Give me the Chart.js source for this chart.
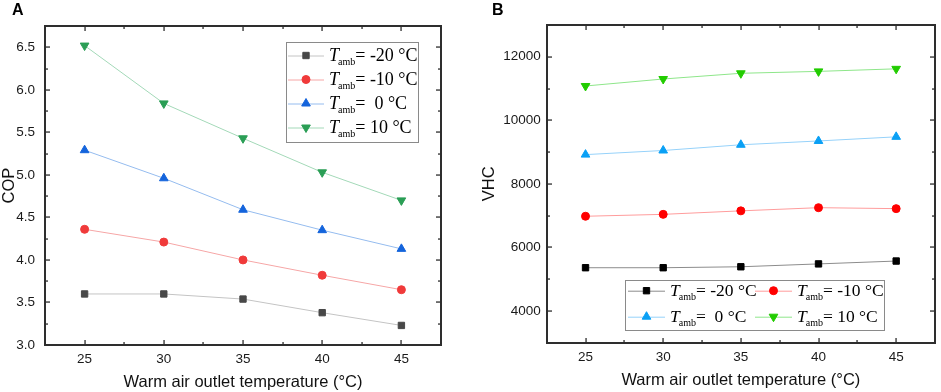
<!DOCTYPE html>
<html>
<head>
<meta charset="utf-8">
<script src="https://cdn.jsdelivr.net/npm/chart.js@4/dist/chart.umd.min.js"></script>
<style>
  body { margin: 0; background: #fff; }
  .panel { position: absolute; top: 0; height: 392px; }
  .panel canvas { display: block; }
  .tag { position: absolute; top: 1px; font: bold 16px "Liberation Sans", Arial, sans-serif; color: #000; }
  #status { position: absolute; left: 0; top: 0; width: 1px; height: 1px; overflow: hidden; z-index: 5; font-size: 1px; color: #fff; }
</style>
</head>
<body>
<div class="panel" style="left:0;width:470px"><canvas id="chart-cop" width="470" height="392"></canvas></div>
<div class="panel" style="left:470px;width:471px"><canvas id="chart-vhc" width="471" height="392"></canvas></div>
<div class="tag" style="left:12px">A</div>
<div class="tag" style="left:492px">B</div>
<div id="status"></div>
<script>
// warm air outlet temperature (°C)
var outletTemps = [25, 30, 35, 40, 45];
var xTicks = [25, 30, 35, 40, 45];
var copTicks = [3.0, 3.5, 4.0, 4.5, 5.0, 5.5, 6.0, 6.5];
var vhcTicks = [4000, 6000, 8000, 10000, 12000];

// legend text after "T_amb"
var ambLabels = ['= -20 °C', '= -10 °C', '=  0 °C', '= 10 °C'];

// COP at T_amb = -20, -10, 0, 10 °C
var copM20 = [3.60, 3.60, 3.54, 3.38, 3.23];
var copM10 = [4.36, 4.21, 4.00, 3.82, 3.65];
var cop0 = [5.29, 4.96, 4.59, 4.35, 4.13];
var cop10 = [6.52, 5.84, 5.43, 5.03, 4.70];

// VHC at T_amb = -20, -10, 0, 10 °C
var vhcM20 = [5360, 5360, 5390, 5480, 5570];
var vhcM10 = [6980, 7040, 7150, 7250, 7220];
var vhc0 = [8920, 9050, 9230, 9350, 9480];
var vhc10 = [11080, 11300, 11480, 11540, 11620];

var sansFont = '"Liberation Sans", Arial, sans-serif';
var serifFont = '"Liberation Serif", "Times New Roman", serif';
var frameColor = '#2e2e2e';
var statusEl = document.getElementById('status');

function makeDataset(values, label, marker, line, style, radius, rotation) {
    return {
        label: label,
        data: values.map((v, i) => ({ x: outletTemps[i], y: v })),
        borderColor: line,
        borderWidth: 1,
        pointStyle: style,
        pointRotation: rotation || 0,
        pointRadius: radius,
        pointHoverRadius: radius,
        pointBackgroundColor: marker,
        pointBorderColor: marker,
        pointBorderWidth: 1,
        fill: false,
        tension: 0
    };
}

// frame plus inward ticks (major + minor) on all four sides
var frameTicks = {
    id: 'frameTicks',
    afterDatasetsDraw(chart) {
        var ctx = chart.ctx, a = chart.chartArea;
        var sx = chart.scales.x, sy = chart.scales.y;
        var l = Math.round(a.left), t = Math.round(a.top);
        var r = Math.round(a.right), b = Math.round(a.bottom);
        ctx.save();
        ctx.fillStyle = frameColor;
        ctx.fillRect(l - 1, t - 1, r - l + 2, 2);
        ctx.fillRect(l - 1, b - 1, r - l + 2, 2);
        ctx.fillRect(l - 1, t - 1, 2, b - t + 2);
        ctx.fillRect(r - 1, t - 1, 2, b - t + 2);
        var xs = sx.ticks.map(tk => tk.value);
        var xStep = xs[1] - xs[0];
        for (var v = xs[0] - xStep / 2; v <= sx.max; v += xStep / 2) {
            if (v < sx.min) continue;
            var len = xs.indexOf(v) >= 0 ? 5 : 3;
            var px = Math.round(sx.getPixelForValue(v));
            ctx.fillRect(px - 0.6, b - len, 1.3, len);
            ctx.fillRect(px - 0.6, t, 1.3, len);
        }
        var ys = sy.ticks.map(tk => tk.value);
        var yStep = ys[1] - ys[0];
        for (var w = ys[0] - yStep; w <= sy.max + 1e-9; w += yStep / 2) {
            if (w < sy.min - 1e-9) continue;
            var major = ys.some(tk => Math.abs(tk - w) < 1e-6);
            var l2 = major ? 5 : 3;
            var py = Math.round(sy.getPixelForValue(w));
            ctx.fillRect(l, py - 0.6, l2, 1.3);
            ctx.fillRect(r - l2, py - 0.6, l2, 1.3);
        }
        ctx.restore();
        statusEl.textContent += chart.canvas.id + ' ';
    }
};

// Origin-style legend: line sample + marker + T_amb label
var ambLegend = {
    id: 'ambLegend',
    afterDraw(chart, args, opts) {
        var ctx = chart.ctx;
        ctx.save();
        ctx.fillStyle = '#fff';
        ctx.fillRect(opts.box[0], opts.box[1], opts.box[2] - opts.box[0], opts.box[3] - opts.box[1]);
        ctx.strokeStyle = '#8a8a8a';
        ctx.lineWidth = 1;
        ctx.strokeRect(opts.box[0] + 0.5, opts.box[1] + 0.5, opts.box[2] - opts.box[0], opts.box[3] - opts.box[1]);
        chart.data.datasets.forEach((ds, i) => {
            var col = i % opts.cols, row = Math.floor(i / opts.cols);
            var x0 = opts.x + col * opts.colW;
            var yc = opts.y + row * opts.rowH;
            ctx.strokeStyle = ds.borderColor;
            ctx.lineWidth = 1;
            ctx.beginPath();
            ctx.moveTo(x0, yc + 0.5); ctx.lineTo(x0 + opts.lineLen, yc + 0.5);
            ctx.stroke();
            ctx.fillStyle = ds.pointBackgroundColor;
            ctx.strokeStyle = ds.pointBorderColor;
            Chart.helpers.drawPoint(ctx, {
                pointStyle: ds.pointStyle, rotation: ds.pointRotation,
                radius: ds.pointRadius, borderWidth: 1
            }, x0 + opts.lineLen / 2, yc);
            var tx = x0 + opts.lineLen + 5;
            var base = yc + opts.size * 0.32;
            ctx.fillStyle = '#000';
            ctx.textBaseline = 'alphabetic';
            ctx.font = 'italic ' + opts.size + 'px ' + serifFont;
            ctx.fillText('T', tx, base);
            tx += ctx.measureText('T').width - 1;
            ctx.font = Math.round(opts.size * 0.58) + 'px ' + serifFont;
            ctx.fillText('amb', tx, base + 4);
            tx += ctx.measureText('amb').width;
            ctx.font = opts.size + 'px ' + serifFont;
            ctx.fillText(ambLabels[i], tx, base);
        });
        ctx.restore();
    }
};

function createOptions(cfg) {
    return {
        responsive: false,
        animation: false,
        devicePixelRatio: 1,
        layout: { padding: cfg.padding },
        plugins: {
            legend: { display: false },
            tooltip: { enabled: false },
            ambLegend: cfg.legend
        },
        scales: {
            x: {
                type: 'linear',
                min: 22.5,
                max: 47.5,
                afterBuildTicks: s => { s.ticks = xTicks.map(v => ({ value: v })); },
                afterFit: s => { s.height = cfg.xHeight; },
                grid: { display: false, drawTicks: false },
                border: { display: false },
                ticks: { padding: 6, color: '#1a1a1a', font: { family: sansFont, size: 13.5 } },
                title: {
                    display: true,
                    text: 'Warm air outlet temperature (°C)',
                    color: '#111',
                    padding: 0,
                    font: { family: sansFont, size: 16.5 }
                }
            },
            y: {
                type: 'linear',
                min: cfg.yMin,
                max: cfg.yMax,
                afterBuildTicks: s => { s.ticks = cfg.yTicks.map(v => ({ value: v })); },
                afterFit: s => { s.width = cfg.yWidth; },
                grid: { display: false, drawTicks: false },
                border: { display: false },
                ticks: {
                    padding: cfg.yPad,
                    color: '#1a1a1a',
                    font: { family: sansFont, size: 13.5 },
                    callback: cfg.yFormat
                },
                title: {
                    display: true,
                    text: cfg.yTitle,
                    color: '#111',
                    padding: 0,
                    font: { family: sansFont, size: 16.5 }
                }
            }
        }
    };
}

var copDatasets = [
    makeDataset(copM20, 'T_amb -20 °C', '#484848', '#c4c4c4', 'rect', 4.5),
    makeDataset(copM10, 'T_amb -10 °C', '#f03a3a', '#f6a6a6', 'circle', 4),
    makeDataset(cop0, 'T_amb 0 °C', '#1464dc', '#95bcef', 'triangle', 5),
    makeDataset(cop10, 'T_amb 10 °C', '#2a9e55', '#a3d9b8', 'triangle', 5, 180)
];

var vhcDatasets = [
    makeDataset(vhcM20, 'T_amb -20 °C', '#000000', '#8c8c8c', 'rect', 4.5),
    makeDataset(vhcM10, 'T_amb -10 °C', '#ff0000', '#ff9c9c', 'circle', 4),
    makeDataset(vhc0, 'T_amb 0 °C', '#0aa0f5', '#96d2fa', 'triangle', 5),
    makeDataset(vhc10, 'T_amb 10 °C', '#22cc00', '#8ee68a', 'triangle', 5, 180)
];

var ctx = document.getElementById('chart-cop');
if (ctx) {
    ctx.getContext('2d', { willReadFrequently: true });
    new Chart(ctx, {
        type: 'line',
        data: { datasets: copDatasets },
        options: createOptions({
            padding: { left: 0, top: 26, right: 29, bottom: 0 },
            xHeight: 47, yWidth: 45, yPad: 10,
            yMin: 3.0, yMax: 6.75, yTicks: copTicks, yTitle: 'COP',
            yFormat: v => v.toFixed(1),
            legend: { box: [286, 42, 418, 142], x: 288, y: 55.5, cols: 1, colW: 0, rowH: 24, lineLen: 36, size: 18 }
        }),
        plugins: [frameTicks, ambLegend]
    });
}

ctx = document.getElementById('chart-vhc');
if (ctx) {
    ctx.getContext('2d', { willReadFrequently: true });
    new Chart(ctx, {
        type: 'line',
        data: { datasets: vhcDatasets },
        options: createOptions({
            padding: { left: 10, top: 25, right: 5, bottom: 2 },
            xHeight: 47.3, yWidth: 66.7, yPad: 6,
            yMin: 3000, yMax: 13000, yTicks: vhcTicks, yTitle: 'VHC',
            yFormat: v => String(v),
            legend: { box: [155, 280, 414, 330], x: 158, y: 290.7, cols: 2, colW: 127, rowH: 26, lineLen: 37, size: 17.5 }
        }),
        plugins: [frameTicks, ambLegend]
    });
}
</script>
</body>
</html>
